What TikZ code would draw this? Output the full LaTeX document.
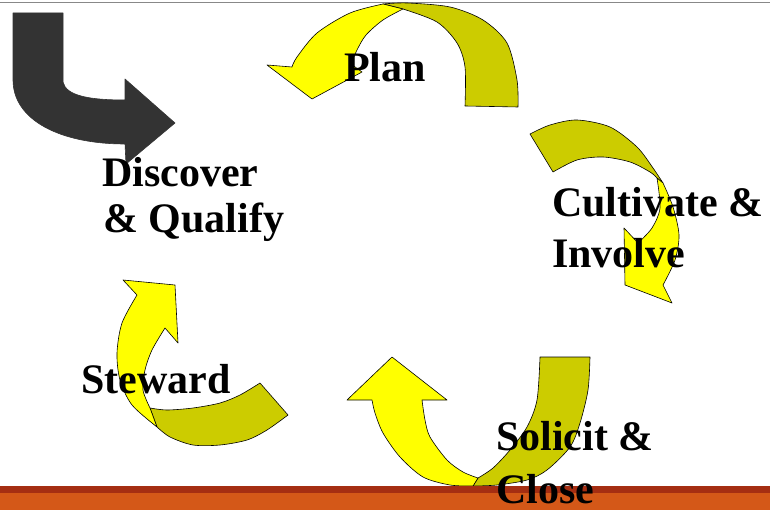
\documentclass[tikz,border=0pt]{standalone}
\usepackage{fontspec}
\setmainfont{Liberation Serif}
\definecolor{arrowyellow}{RGB}{255,255,0}
\definecolor{arrowolive}{RGB}{204,204,0}
\definecolor{startgray}{RGB}{51,51,51}
\definecolor{rulegray}{RGB}{136,136,136}
\definecolor{barred}{RGB}{165,46,18}
\definecolor{barorange}{RGB}{212,88,24}
\begin{document}
\begin{tikzpicture}[x=1pt,y=-1pt,
  front/.style={fill=arrowyellow,draw=black,line width=0.6pt,line join=round},
  back/.style={fill=arrowolive,draw=black,line width=0.6pt,line join=round},
  starter/.style={fill=startgray,draw=black!80,line width=0.6pt,line join=round},
  stage/.style={anchor=base west,inner sep=0pt,
    font=\fontsize{42}{50}\selectfont\bfseries}]
\useasboundingbox (0,0) rectangle (770,510);

% thin rule along the top edge
\draw[rulegray,line width=1pt] (0,3) -- (770,3);

% dark entry arrow
\path[starter] (13,13) -- (63,13) -- (63,82)
  .. controls (66,96) and (90,100) .. (125,100)
  -- (125,79) -- (175,123) -- (126,164) -- (125,144)
  .. controls (60,144) and (13,120) .. (13,80) -- cycle;

% Plan: arch from right to left
\path[back] (465,106) -- (518,107)
  -- plot[smooth] coordinates {(518,107) (517,80) (507,43) (483,20) (450,7) (407,3) (383,4)}
  -- (403,9)
  -- plot[smooth] coordinates {(403,9) (437,22) (457,43) (465,67) (465,106)}
  -- cycle;
\path[front] (383,4)
  -- plot[smooth] coordinates {(383,4) (350,13) (317,33) (297,57) (292,67)}
  -- (267,65) -- (312,99) -- (362,72) -- (351,64)
  -- plot[smooth] coordinates {(351,64) (357,50) (366,35) (383,20) (403,9)}
  -- cycle;

% Cultivate & Involve: turning downwards on the right
\path[back] (530,134)
  -- plot[smooth] coordinates {(530,134) (550,125) (577,120) (610,127) (637,147) (653,168) (663,183)}
  -- (657,178)
  -- plot[smooth] coordinates {(657,178) (650,172) (630,162) (603,157) (577,160) (553,172)}
  -- cycle;
\path[front] (663,183)
  -- plot[smooth] coordinates {(663,183) (673,207) (679,235) (675,260) (663,285)}
  -- (672,303) -- (625,285) -- (624,228) -- (638,243)
  -- plot[smooth] coordinates {(638,243) (652,228) (660,208) (657,178)}
  -- cycle;

% Solicit & Close: U-turn at the bottom
\path[back] (540,357) -- (590,357)
  -- plot[smooth] coordinates {(590,357) (588,390) (580,423) (570,447) (547,470) (527,480) (497,485) (473,486)}
  -- (478,478)
  -- plot[smooth] coordinates {(478,478) (493,468) (510,450) (527,427) (537,400) (540,357)}
  -- cycle;
\path[front] (478,478) -- (473,486)
  -- plot[smooth] coordinates {(473,486) (450,485) (423,477) (400,457) (383,433) (375,413) (372,400)}
  -- (347,400) -- (392,357) -- (447,400) -- (422,400)
  -- plot[smooth] coordinates {(422,400) (425,420) (430,437) (447,460) (463,472) (478,478)}
  -- cycle;

% Steward: rising on the left
\path[back] (260,383) -- (288,415)
  -- plot[smooth] coordinates {(288,415) (267,430) (247,440) (220,445) (193,445) (170,437) (157,427)}
  -- (150,408)
  -- plot[smooth] coordinates {(150,408) (167,410) (193,408) (220,403) (240,395) (260,383)}
  -- cycle;
\path[front] (157,427)
  -- plot[smooth] coordinates {(157,427) (132,405) (120,380) (117,353) (122,323) (137,295)}
  -- (123,280) -- (175,285) -- (178,343) -- (165,328)
  -- plot[smooth] coordinates {(165,328) (152,350) (145,370) (143,390) (150,408)}
  -- cycle;

% footer bands
\fill[barred] (0,486) rectangle (770,493);
\fill[barorange] (0,493) rectangle (770,510);

% stage labels
\node[stage] (discover) at (102,187) {Discover};
\node[stage] (qualify) at (103,233) {\& Qualify};
\node[stage] (plan) at (344,82) {Plan};
\node[stage] (cultivate) at (552,217) {Cultivate \&};
\node[stage] (involve) at (552,268) {Involve};
\node[stage] (solicit) at (496,450) {Solicit \&};
\node[stage] (close) at (496,503) {Close};
\node[stage] (steward) at (81,393) {Steward};
\end{tikzpicture}
\end{document}
